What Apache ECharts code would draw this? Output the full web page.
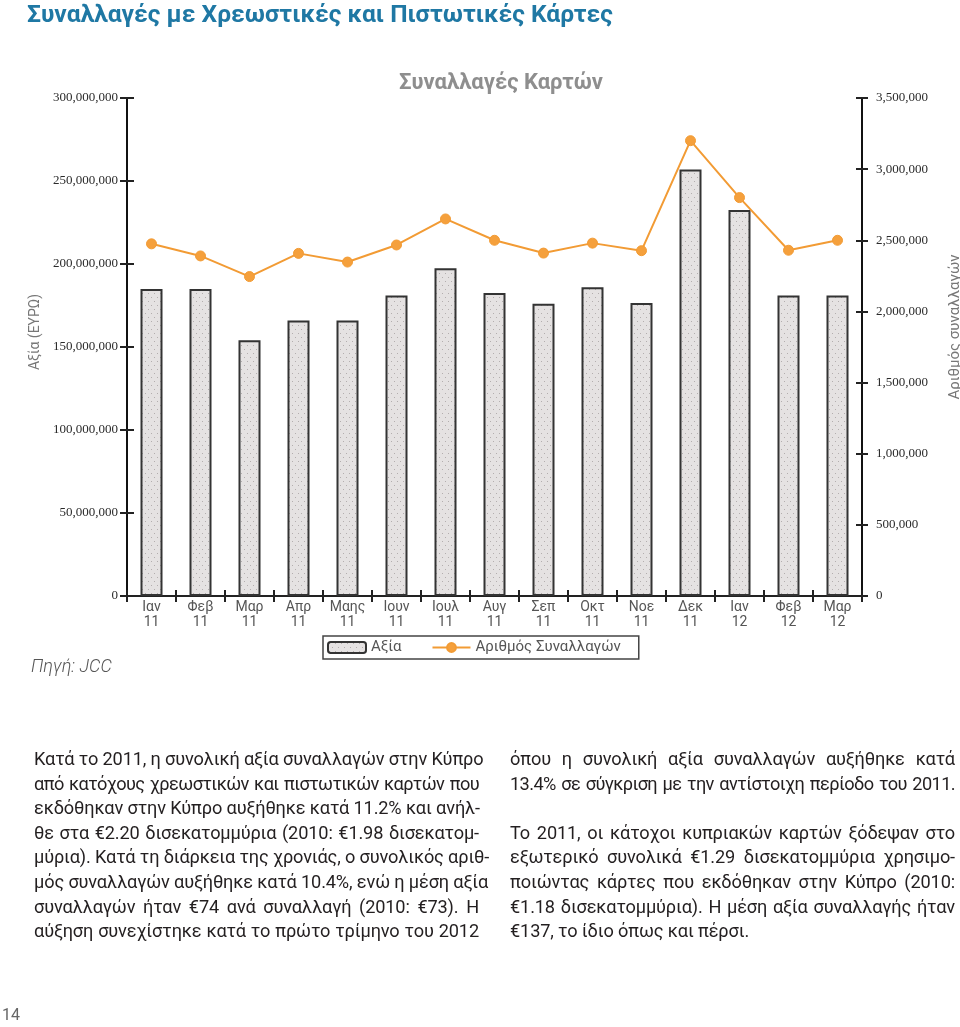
<!DOCTYPE html>
<html><head><meta charset="utf-8">
<script src="https://cdn.jsdelivr.net/npm/echarts@6/dist/echarts.min.js"></script>
<style>
html,body{margin:0;padding:0;background:#fff;}
#wrap{position:relative;width:960px;height:1027px;overflow:hidden;}
#chart{position:absolute;left:0;top:0;width:960px;height:1027px;}
.t{position:absolute;font-family:Roboto,"Noto Sans",sans-serif;}
#title{left:27px;top:-1px;font-size:24.6px;font-weight:bold;color:#1f78a4;white-space:nowrap;}
#src{left:31px;top:655px;font-size:18px;font-style:italic;color:#555;font-weight:300;}
.col{position:absolute;top:747px;font-family:Roboto,"Noto Sans",sans-serif;font-size:18.2px;color:#231f20;letter-spacing:-0.15px;}
.col div{height:24.6px;line-height:24.6px;text-align:justify;text-align-last:justify;white-space:nowrap;}
.col div.nl{text-align-last:left;}
.col div.tight{letter-spacing:-0.6px;word-spacing:-1.2px;}
#c1{left:34px;width:445px;}
#c2{left:510px;width:445px;}
#pg{left:2px;top:1005px;font-size:16px;color:#666;}
</style></head>
<body><div id="wrap">
<div id="chart"></div>
<div class="t" id="title">Συναλλαγές με Χρεωστικές και Πιστωτικές Κάρτες</div>
<div class="t" id="src">Πηγή: JCC</div>
<div class="col" id="c1">
<div>Κατά το 2011, η συνολική αξία συναλλαγών στην Κύπρο</div>
<div class="tight">από κατόχους χρεωστικών και πιστωτικών καρτών που</div>
<div>εκδόθηκαν στην Κύπρο αυξήθηκε κατά 11.2% και ανήλ-</div>
<div>θε στα €2.20 δισεκατομμύρια (2010: €1.98 δισεκατομ-</div>
<div>μύρια).  Κατά τη διάρκεια της χρονιάς, ο συνολικός αριθ-</div>
<div>μός συναλλαγών αυξήθηκε κατά 10.4%, ενώ η μέση αξία</div>
<div>συναλλαγών ήταν €74 ανά συναλλαγή (2010: €73). Η</div>
<div>αύξηση συνεχίστηκε κατά το πρώτο τρίμηνο του 2012</div>
</div>
<div class="col" id="c2">
<div>όπου η συνολική αξία συναλλαγών αυξήθηκε κατά</div>
<div class="tight">13.4% σε σύγκριση με την αντίστοιχη περίοδο του 2011.</div>
<div class="nl">&nbsp;</div>
<div>Το 2011, οι κάτοχοι κυπριακών καρτών ξόδεψαν στο</div>
<div>εξωτερικό συνολικά €1.29 δισεκατομμύρια χρησιμο-</div>
<div>ποιώντας κάρτες που εκδόθηκαν στην Κύπρο (2010:</div>
<div>€1.18 δισεκατομμύρια).  Η μέση αξία συναλλαγής ήταν</div>
<div class="nl">€137, το ίδιο όπως και πέρσι.</div>
</div>
<div class="t" id="pg">14</div>
</div>
<script>
// ---- data ----
const months = ['Ιαν','Φεβ','Μαρ','Απρ','Μαης','Ιουν','Ιουλ','Αυγ','Σεπ','Οκτ','Νοε','Δεκ','Ιαν','Φεβ','Μαρ'];
const years  = ['11','11','11','11','11','11','11','11','11','11','11','11','12','12','12'];
const valueEUR = [185000000,185000000,154000000,166000000,166000000,181000000,197500000,182500000,176000000,186000000,176500000,257000000,232500000,181000000,181000000];
const txCount = [2475000,2390000,2245000,2408000,2347000,2467000,2650000,2500000,2410000,2480000,2427000,3200000,2800000,2430000,2500000];
const seriesNames = ['Αξία','Αριθμός Συναλλαγών'];
const leftMax = 300000000, leftStep = 50000000;
const rightMax = 3500000, rightStep = 500000;

const categories = months.map((m,i)=>m+'\n'+years[i]);

// dotted fill pattern for bars
const pc = document.createElement('canvas'); pc.width = 6; pc.height = 8;
const px = pc.getContext('2d');
px.fillStyle = '#e5e2e2'; px.fillRect(0,0,6,8);
px.fillStyle = '#b3aeae'; px.fillRect(1,1,1,1); px.fillRect(4,5,1,1);

const fmt = v => Number(v).toLocaleString('en-US');
const tickFont = {fontFamily:'"Liberation Serif",serif', fontSize:13, color:'#2a2a2a'};

const chart = echarts.init(document.getElementById('chart'), null, {renderer:'canvas'});
chart.setOption({
  animation:false,
  title:{text:'Συναλλαγές Καρτών', left:496, top:67, textAlign:'center',
    textStyle:{fontFamily:'Roboto,sans-serif', fontSize:22, fontWeight:'bold', color:'#8e8e8e'}},
  legend:{data:seriesNames, left:323, top:636, width:320,
    padding:[4,18,4,4], itemGap:30, itemWidth:38, itemHeight:11,
    borderColor:'#444', borderWidth:1.5, borderRadius:0,
    textStyle:{fontFamily:'Roboto,sans-serif', fontSize:15, color:'#555'}},
  grid:{left:127, right:98, top:98, bottom:431, containLabel:false, outerBoundsMode:'none'},
  xAxis:[{type:'category', data:categories, boundaryGap:true,
    axisLine:{lineStyle:{color:'#222', width:2}},
    axisTick:{show:true, length:6, lineStyle:{color:'#222', width:2}},
    axisLabel:{fontFamily:'Roboto,"Noto Sans",sans-serif', fontSize:14, color:'#555', lineHeight:15, margin:4}},
    {type:'category', data:categories, position:'bottom', boundaryGap:true,
    axisLine:{show:false}, axisLabel:{show:false},
    axisTick:{show:true, inside:true, length:6, lineStyle:{color:'#222', width:2}}}],
  yAxis:[
    {type:'value', position:'left', min:0, max:leftMax, interval:leftStep,
     name:'Αξία (ΕΥΡΩ)', nameLocation:'middle', nameGap:82, nameRotate:90,
     nameTextStyle:{fontFamily:'Roboto,sans-serif', fontSize:14, color:'#777', padding:[0,0,0,30]},
     axisLine:{show:true, lineStyle:{color:'#111', width:2}},
     axisTick:{show:true, length:7, lineStyle:{color:'#222', width:2}},
     axisLabel:Object.assign({formatter:fmt, margin:9}, tickFont),
     splitLine:{show:false}},
    {type:'value', position:'right', min:0, max:rightMax, interval:rightStep,
     name:'Αριθμός συναλλαγών', nameLocation:'middle', nameGap:86, nameRotate:90,
     nameTextStyle:{fontFamily:'Roboto,sans-serif', fontSize:15, color:'#777', padding:[0,0,0,40]},
     axisLine:{show:true, lineStyle:{color:'#111', width:2}},
     axisTick:{show:true, length:6, lineStyle:{color:'#222', width:2}},
     axisLabel:Object.assign({formatter:fmt, margin:14}, tickFont),
     splitLine:{show:false}},
    {type:'value', position:'left', min:0, max:leftMax, interval:leftStep,
     axisLine:{show:false}, axisLabel:{show:false}, splitLine:{show:false},
     axisTick:{show:true, inside:true, length:7, lineStyle:{color:'#222', width:2}}},
    {type:'value', position:'right', min:0, max:rightMax, interval:rightStep,
     axisLine:{show:false}, axisLabel:{show:false}, splitLine:{show:false},
     axisTick:{show:true, inside:true, length:6, lineStyle:{color:'#222', width:2}}}
  ],
  series:[
    {name:seriesNames[0], type:'bar', xAxisIndex:0, yAxisIndex:0, data:valueEUR, barWidth:22,
     itemStyle:{color:{image:pc, repeat:'repeat'}, borderColor:'#333', borderWidth:2}},
    {name:seriesNames[1], type:'line', xAxisIndex:0, yAxisIndex:1, data:txCount,
     symbol:'circle', symbolSize:10, z:5,
     lineStyle:{color:'#f29b34', width:2},
     itemStyle:{color:'#f5a03c', borderColor:'#f29b34', borderWidth:1}}
  ]
});
</script>
</body></html>
